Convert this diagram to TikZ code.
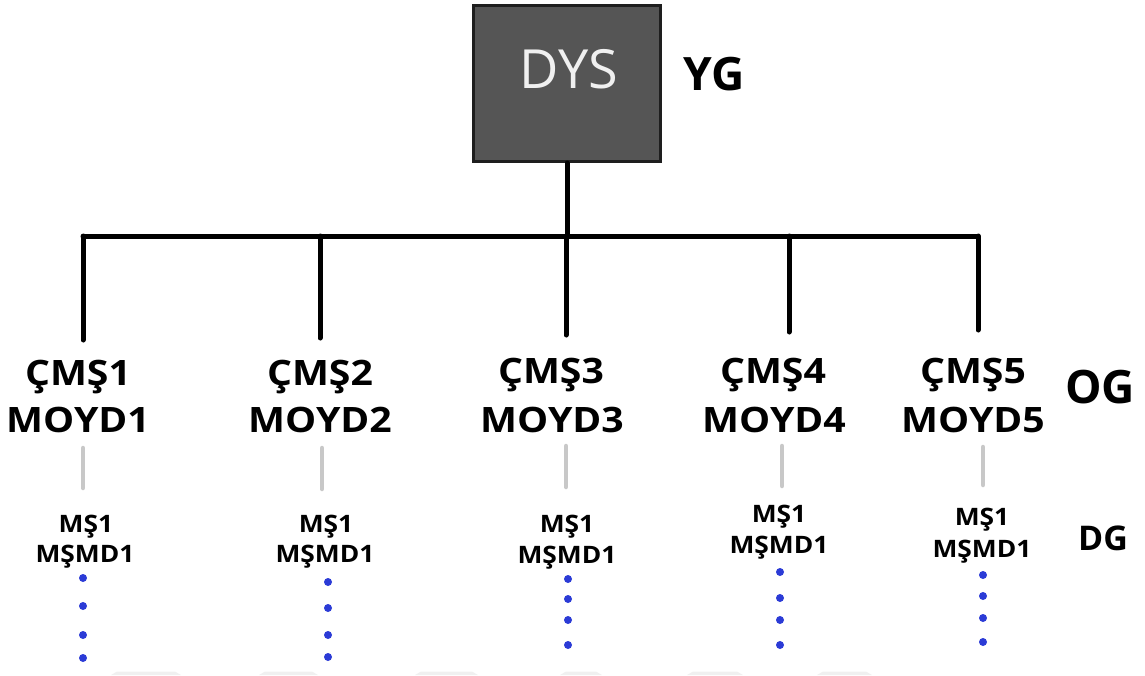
\documentclass[tikz,border=0pt]{standalone}
\usepackage{fontspec}
\setmainfont{Open Sans}
\definecolor{boxgray}{HTML}{555555}
\definecolor{boxedge}{HTML}{1E1E1E}
\definecolor{linkgray}{HTML}{C8C8C8}
\definecolor{dotblue}{HTML}{2B3BD6}
\definecolor{floorgray}{HTML}{F0F0F0}
\tikzset{
  topbox/.style={draw=boxedge, line width=3pt, fill=boxgray, minimum width=187pt,
                 minimum height=156pt, inner sep=0pt},
  toptext/.style={anchor=base, inner sep=0pt, text=white!94!black,
                  font=\fontsize{54}{60}\selectfont},
  level/.style={anchor=base, inner sep=0pt, font=\bfseries\fontsize{46}{52}\selectfont},
  sublevel/.style={anchor=base, inner sep=0pt, font=\bfseries\fontsize{34}{40}\selectfont},
  unit/.style={anchor=base, inner sep=0pt, xscale=1.12, transform shape,
               font=\bfseries\fontsize{35}{42}\selectfont},
  member/.style={anchor=base, inner sep=0pt, xscale=1.1, transform shape,
                 font=\bfseries\fontsize{24}{28}\selectfont},
  trunk/.style={line width=5pt, line cap=round, line join=round},
  branch/.style={line width=4.5pt, linkgray, line cap=round},
  more/.style={fill=dotblue},
}
\begin{document}
\begin{tikzpicture}[x=1pt, y=-1pt]
\useasboundingbox (0,0) rectangle (1145,675);

% faint floor bands along the lower edge
\foreach \a/\b in {111/181, 259/318, 415/478, 560/602, 687/743, 817/872}
  \fill[floorgray] (\a+6,671.5) -- (\b-6,671.5) -- (\b,675) -- (\a,675) -- cycle;

% top unit
\node[topbox] (dys) at (567,83.5) {};
\node[toptext] (dystext) at (569,88) {DYS};
\node[level] (yg) at (714,90) {YG};

% bus joints
\coordinate (j0) at (567,236);
\coordinate (j1) at (83,236);
\coordinate (j2) at (320,236);
\coordinate (j3) at (566,236);
\coordinate (j4) at (789,236);
\coordinate (j5) at (978,236);
\coordinate (e1) at (83,340);
\coordinate (e2) at (320,338);
\coordinate (e3) at (566,335);
\coordinate (e4) at (789,332);
\coordinate (e5) at (978,330);

\draw[trunk] (dys.south) -- (j0);
\draw[trunk] (j1) -- (j5);
\foreach \i in {1,...,5} \draw[trunk] (j\i) -- (e\i);

% middle units
\node[unit] (c1a) at (78,385) {ÇMŞ1};
\node[unit] (c1b) at (78,432) {MOYD1};
\node[unit] (c2a) at (320,385) {ÇMŞ2};
\node[unit] (c2b) at (320,432) {MOYD2};
\node[unit] (c3a) at (551,383) {ÇMŞ3};
\node[unit] (c3b) at (552,432) {MOYD3};
\node[unit] (c4a) at (773,383) {ÇMŞ4};
\node[unit] (c4b) at (774,432) {MOYD4};
\node[unit] (c5a) at (973,383) {ÇMŞ5};
\node[unit] (c5b) at (973,432) {MOYD5};
\node[level] (og) at (1100,403) {OG};

% links to the lower units
\coordinate (g1t) at (83,448);  \coordinate (g1b) at (83,488);
\coordinate (g2t) at (322,448); \coordinate (g2b) at (322,489);
\coordinate (g3t) at (566,446); \coordinate (g3b) at (566,487);
\coordinate (g4t) at (782,446); \coordinate (g4b) at (782,486);
\coordinate (g5t) at (983,447); \coordinate (g5b) at (983,485);
\foreach \i in {1,...,5} \draw[branch] (g\i t) -- (g\i b);

% lower units
\node[member] (m1a) at (86,532) {MŞ1};
\node[member] (m1b) at (85,562) {MŞMD1};
\node[member] (m2a) at (326,532) {MŞ1};
\node[member] (m2b) at (325,562) {MŞMD1};
\node[member] (m3a) at (567,532) {MŞ1};
\node[member] (m3b) at (567,563) {MŞMD1};
\node[member] (m4a) at (779,522) {MŞ1};
\node[member] (m4b) at (779,553) {MŞMD1};
\node[member] (m5a) at (982,525) {MŞ1};
\node[member] (m5b) at (982,557) {MŞMD1};
\node[sublevel] (dg) at (1103,550) {DG};

% continuation dots
\foreach \x/\ya/\yb/\yc/\yd in {83/578/606/635/658, 328/582/608/635/657,
                               568/579/599/620/645, 780/572/598/620/645,
                               983/575/596/618/642}
  \foreach \y in {\ya,\yb,\yc,\yd} \fill[more] (\x,\y) circle (4pt);
\end{tikzpicture}
\end{document}
